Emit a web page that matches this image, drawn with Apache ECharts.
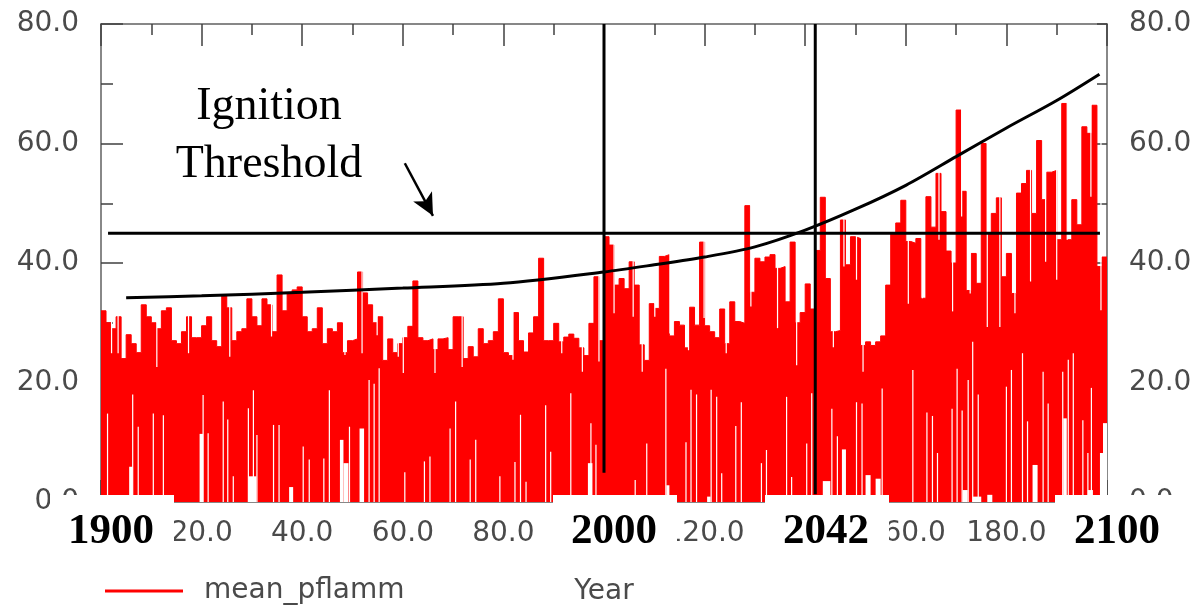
<!DOCTYPE html>
<html>
<head>
<meta charset="utf-8">
<title>mean_pflamm</title>
<script src="https://cdn.jsdelivr.net/npm/echarts@6/dist/echarts.min.js"></script>
<style>
  html, body { margin: 0; padding: 0; background: #fff; }
  #chart { width: 1197px; height: 611px; }
</style>
</head>
<body>
<div id="chart"></div>
<script>
// years are counted from 1900 (0 .. 200)
const peak = [
  32, 30, 29, 31, 24, 28, 26.5, 25, 33, 31,
  30, 29, 32, 32.5, 27, 26.5, 28.5, 31, 27.5, 27.5,
  29.5, 31, 27, 26, 34.5, 32.5, 27, 28.5, 29, 34,
  31, 29.5, 34, 33, 28.5, 38, 32, 35, 35.5, 36,
  31, 28.5, 29, 32.5, 26.5, 29, 28.5, 30, 25, 27,
  27.3, 38.5, 35, 33, 30, 31, 23.7, 27.3, 25, 26.5,
  27.5, 29.4, 37, 27.5, 27, 27.3, 25.5, 27.3, 27.5, 25.5,
  31, 31, 24, 26, 24.3, 29, 26.5, 27, 28.5, 34,
  25, 24.5, 31.7, 27, 25.1, 28.3, 31, 40.8, 27, 27,
  29.9, 26.8, 27.6, 28.1, 27.4, 25.8, 24.5, 29.9, 37.7, 27,
  44.4, 43, 36.3, 37.4, 35.7, 40.2, 36.3, 26.3, 23.7, 33.2,
  32.4, 41.1, 41.4, 27.8, 30.2, 29.6, 25.8, 32.6, 29.6, 43.5,
  29.5, 28.5, 27.5, 32.3, 26.5, 33.5, 30.2, 29.9, 49.6, 35.1,
  40.8, 40.2, 41, 41.4, 39.1, 39.4, 33.5, 43.5, 30, 31.7,
  36.5, 32.3, 42.1, 51, 37.4, 28.5, 28.7, 47.2, 39.7, 44.4,
  44.1, 26.2, 26.8, 26.2, 26.8, 27.8, 36.3, 45, 46.7, 50.5,
  43.6, 43.3, 44.1, 34.1, 51.1, 46, 55, 48.6, 42, 40,
  65.6, 52, 35.4, 41.6, 36.6, 60, 45, 48.3, 50.9, 37.7,
  41.6, 34.9, 51.7, 53.3, 55.5, 48.3, 60.5, 50.6, 55.2, 55.5,
  43.9, 66.7, 43.9, 50.6, 46.4, 62.8, 61.7, 66.4, 39.4, 41
];

// thin white slits rising from zero: [year, top]
const slits = [
  [1.3, 14.8], [6.3, 18], [7.4, 12.6], [10.4, 14.8], [12.4, 14.5], [20.3, 17.9], [21.3, 11.5],
  [24.3, 16.8], [25.2, 13.8], [26.3, 4.3], [29.3, 15.7], [30.3, 18.7], [31, 11.2], [34.3, 12.9],
  [35.4, 12.9], [40.2, 9.3], [41.4, 7.1], [44.3, 7.3], [45.4, 18.7], [49.4, 12.6], [53.3, 20.4],
  [54.3, 19.8], [55.3, 22.4], [60.4, 5], [64.3, 6.8], [65.4, 7.6], [69.4, 12.3], [70.5, 16.8],
  [73.4, 7.1], [74.5, 10.4], [79.3, 4.3], [82.3, 6.7], [83.4, 14.6], [84.5, 3.4], [88.4, 16.2],
  [89.4, 8.4], [93.4, 18.2], [97.4, 13.2], [98.4, 9.6], [106.2, 3.7], [108.5, 9.8], [112.3, 22.3],
  [116.3, 10], [117.3, 18.8], [118.4, 18], [121.3, 18.8], [122.4, 17.6], [123.4, 4.8], [126.2, 12.7],
  [127.3, 16.7], [131.3, 6.5], [132.3, 8.7], [136.3, 17.6], [137.3, 4.2], [140.3, 9.8], [141.3, 18.2],
  [145.3, 15.6], [146.4, 11], [150.2, 16.7], [151.3, 16.5], [155.3, 19], [161.4, 22.1], [164.2, 15],
  [165.3, 14.4], [166.3, 8.2], [169.2, 15.6], [170.2, 22.3], [171.2, 15.3], [172.4, 20.4], [173.3, 26.8],
  [174.4, 18], [180, 19.3], [181, 22.1], [183.2, 24.9], [184.2, 13.5], [187.3, 21.8], [188.3, 16.5],
  [191.2, 21.8], [192.3, 23.8], [193.3, 24.9], [195.2, 13.7], [196.2, 8.2], [196.9, 19.1]
];

// wider white patches near zero: [from, to, top]
const blocks = [
  [5.6, 6.3, 5.9], [19.6, 20.3, 11.4], [29.3, 30.9, 4.3], [37.4, 38.2, 2.5], [47.5, 48.2, 10.4],
  [48.2, 49.2, 6.5], [51.4, 52.3, 12.3], [96.8, 97.7, 6.5], [112.4, 113, 2.8], [120.5, 121.2, 0.9],
  [143.5, 145, 3.5], [147.3, 148.1, 8.8], [152, 153, 4.5], [154, 155, 3.9], [171.3, 172.3, 2],
  [173.3, 175, 0.9], [176.2, 177.2, 1.2], [185.2, 186.2, 6.2], [191.3, 192, 14], [196.2, 197.2, 2],
  [198.6, 199.2, 8.2], [199.2, 200, 13.2]
];

// narrow notches hanging from the top edge: [year, bottom]
const dips = [
  [2.1, 24.9], [3.4, 24.9], [11.1, 22.6], [17.4, 24.9], [25.6, 24.3], [33.9, 27.7], [48.5, 24.6],
  [51.9, 24.9], [54.9, 27.9], [59.1, 24.3], [60.1, 21.6], [66.4, 21.6], [71.8, 22.6], [81.9, 23.8],
  [91.6, 24.9], [95.7, 21.8], [99, 23.5], [102, 31.6], [105.8, 31], [107.6, 21.8], [110.1, 31],
  [113.1, 28.2], [116.8, 25.4], [119.9, 30.8], [124.3, 24.9], [129.2, 32.7], [134.5, 29.1],
  [138.3, 22.9], [145.6, 25.9], [147.7, 39.4], [150.2, 37.2], [151.5, 21.8], [160.5, 33.2],
  [163.3, 34.1], [166.6, 43.9], [169.3, 31.9], [171.1, 47.8], [172.8, 34.9], [176.2, 29.3],
  [178.7, 29.3], [181.7, 31.6], [184.8, 36.9], [187.8, 40.2], [190, 37.2], [192.1, 43.9],
  [196.8, 51.1], [198.8, 32.1]
];

const trendX = [5, 20, 40, 60, 80, 100, 110, 120, 130, 140, 150, 160, 170, 180, 190, 198.5];
const trendY = [34.2, 34.5, 35.1, 35.8, 36.6, 38.5, 39.7, 41.0, 42.7, 45.5, 49.0, 53.0, 57.8, 62.6, 67.2, 71.6];

const thresholdLevel = 45;
const thresholdSpan = [1.4, 198.6];
const markerYears = [100, 142];
const markerBottoms = [4.9, 1.3];
const markerLabels = ["1900", "2000", "2042", "2100"];
const arrowFrom = [60.4, 56.7];
const arrowTo = [66.0, 47.9];

const xTicks = { min: 0, max: 200, interval: 20 };
const yTicks = { min: 0, max: 80, interval: 20 };

const RED = "#ff0000";
const AXIS_FONT = "DejaVu Sans";
const SERIF = "Liberation Serif";
const labelStyle = { fontFamily: AXIS_FONT, fontSize: 28, color: "#4a4a4a" };

const chart = echarts.init(document.getElementById("chart"), null, { renderer: "canvas" });

function whiteRect(x0, x1, y0, y1, api) {
  const a = api.coord([x0, y1]);
  const b = api.coord([x1, y0]);
  return {
    type: "rect",
    shape: { x: a[0], y: a[1], width: b[0] - a[0], height: b[1] - a[1] },
    style: { fill: "#fff" }
  };
}

const SLIT = 0.12;
const gapData = slits.map(([t, h]) => [t - SLIT, t + SLIT, h]).concat(blocks);
const dipData = dips.map(([t, v]) => {
  const i = Math.floor(t);
  const top = Math.max(peak[i - 1] || 0, peak[i] || 0, peak[i + 1] || 0) + 0.5;
  return [t - SLIT, t + SLIT, v, top];
});

const axisLineStyle = { color: "#606060", width: 1.5 };
const tickStyle = { color: "#404040", width: 1.5 };

function xAxisDef(position, showLabel) {
  return {
    type: "value", position, ...xTicks,
    axisLine: { show: true, onZero: false, lineStyle: axisLineStyle },
    axisTick: { show: true, inside: true, length: 22, lineStyle: tickStyle },
    minorTick: { show: true, splitNumber: 2, length: 11, lineStyle: tickStyle },
    splitLine: { show: false },
    axisLabel: { show: showLabel, formatter: v => v.toFixed(1), margin: 18, ...labelStyle },
    name: showLabel ? "Year" : "",
    nameLocation: "middle",
    nameGap: 76,
    nameTextStyle: labelStyle
  };
}

function yAxisDef(position, tickLen, minorLen) {
  return {
    type: "value", position, ...yTicks,
    axisLine: { show: true, onZero: false, lineStyle: axisLineStyle },
    axisTick: { show: true, inside: true, length: tickLen, lineStyle: tickStyle },
    minorTick: { show: true, splitNumber: 2, length: minorLen, lineStyle: tickStyle },
    splitLine: { show: false },
    axisLabel: { formatter: v => v.toFixed(1), margin: 22, ...labelStyle }
  };
}

const blackLine = { color: "#000", width: 3 };

const boxes = [
  { x: 50, cx: 111 },
  { x: 553, cx: 614 },
  { x: 765, cx: 826 },
  { x: 1055, cx: 1117 }
];

chart.setOption({
  animation: false,
  backgroundColor: "#fff",
  grid: { left: 101, right: 90, top: 24, bottom: 109 },
  legend: {
    left: 100, top: 572,
    data: [{ name: "mean_pflamm", icon: "rect" }],
    itemWidth: 78, itemHeight: 3,
    textStyle: { ...labelStyle, padding: [0, 0, 0, 16] }
  },
  xAxis: [xAxisDef("bottom", true), xAxisDef("top", false)],
  yAxis: [yAxisDef("left", 22, 12), yAxisDef("right", 10, 10)],
  series: [
    {
      name: "mean_pflamm", type: "line", step: "end", symbol: "none", z: 2,
      data: peak.map((v, i) => [i, v]).concat([[peak.length, peak[peak.length - 1]]]),
      lineStyle: { color: RED, width: 1 }, itemStyle: { color: RED },
      areaStyle: { color: RED, opacity: 1 }
    },
    {
      type: "custom", z: 3, silent: true,
      data: gapData, encode: { x: [0, 1], y: 2 },
      renderItem: (p, api) => whiteRect(api.value(0), api.value(1), 0, api.value(2), api)
    },
    {
      type: "custom", z: 3, silent: true,
      data: dipData, encode: { x: [0, 1], y: [2, 3] },
      renderItem: (p, api) => whiteRect(api.value(0), api.value(1), api.value(2), api.value(3), api)
    },
    {
      type: "line", smooth: 0.3, symbol: "none", z: 5, silent: true,
      data: trendX.map((t, i) => [t, trendY[i]]), lineStyle: blackLine
    },
    {
      type: "line", symbol: "none", z: 5, silent: true,
      data: thresholdSpan.map(t => [t, thresholdLevel]), lineStyle: blackLine,
      markLine: {
        silent: true, symbol: ["none", "arrow"], symbolSize: [16, 22],
        label: { show: false },
        lineStyle: { color: "#000", width: 2.5, type: "solid" },
        data: [[{ coord: arrowFrom }, { coord: arrowTo }]]
      }
    },
    ...markerYears.map((t, i) => ({
      type: "line", symbol: "none", z: 5, silent: true,
      data: [[t, yTicks.max], [t, markerBottoms[i]]], lineStyle: blackLine
    }))
  ],
  graphic: [
    {
      type: "text", x: 269, y: 78, z: 100, silent: true,
      style: {
        text: "Ignition\nThreshold", font: `46px "${SERIF}"`, fill: "#000",
        align: "center", verticalAlign: "top", lineHeight: 58
      }
    },
    ...boxes.map(b => ({
      type: "rect", z: 100, silent: true,
      shape: { x: b.x, y: 495, width: 124, height: 72 },
      style: { fill: "#fff" }
    })),
    ...boxes.map((b, i) => ({
      type: "text", z: 101, silent: true, x: b.cx, y: 532,
      style: {
        text: markerLabels[i], font: `bold 43px "${SERIF}"`, fill: "#000",
        align: "center", verticalAlign: "middle"
      }
    }))
  ]
});
</script>
</body>
</html>
